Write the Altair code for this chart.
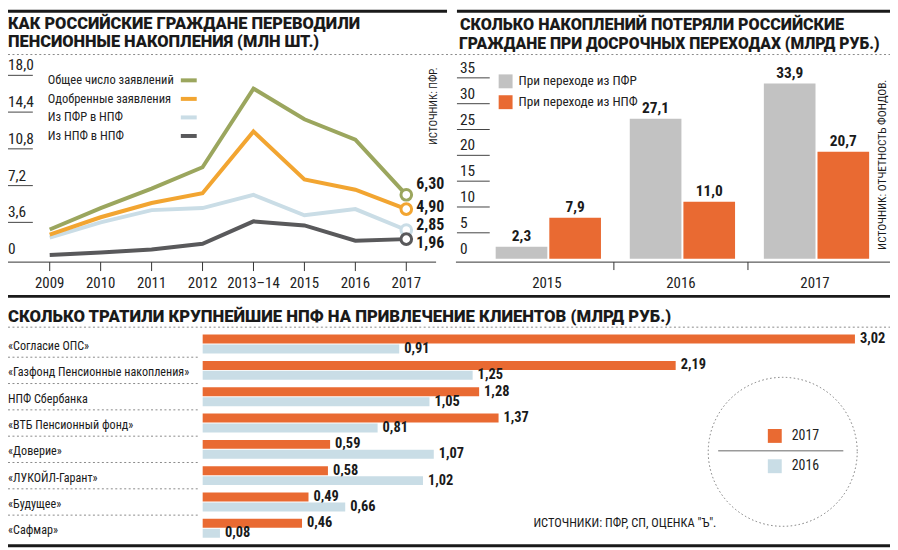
import altair as alt
import pandas as pd

# ---------------- data ----------------
# Panel 1: transfers of pension savings (mln applications)
years = ["2009", "2010", "2011", "2012", "2013–14", "2015", "2016", "2017"]
total_apps = [2.9, 5.0, 6.9, 9.0, 16.7, 13.7, 11.7, 6.30]
approved_apps = [2.4, 4.1, 5.5, 6.45, 12.5, 7.8, 6.8, 4.90]
pfr_to_npf = [2.1, 3.6, 4.8, 5.0, 6.3, 4.3, 4.9, 2.85]
npf_to_npf = [0.4, 0.65, 0.95, 1.5, 3.7, 3.3, 1.8, 1.96]
series_names = ["Общее число заявлений", "Одобренные заявления", "Из ПФР в НПФ", "Из НПФ в НПФ"]
line_colors = ["#9ba65e", "#f2a531", "#cadde6", "#59595b"]
y1_ticks = [0, 3.6, 7.2, 10.8, 14.4, 18.0]

# Panel 2: losses on early transfers (bln rub)
loss_years = ["2015", "2016", "2017"]
loss_from_pfr = [2.3, 27.1, 33.9]
loss_from_npf = [7.9, 11.0, 20.7]
loss_names = ["При переходе из ПФР", "При переходе из НПФ"]
bar_colors = ["#c2c2c2", "#e96a32"]
y2_ticks = [0, 5, 10, 15, 20, 25, 30, 35]

# Panel 3: spending of largest NPFs on client acquisition (bln rub)
funds = ["«Согласие ОПС»", "«Газфонд Пенсионные накопления»", "НПФ Сбербанка",
         "«ВТБ Пенсионный фонд»", "«Доверие»", "«ЛУКОЙЛ-Гарант»", "«Будущее»", "«Сафмар»"]
spend_2017 = [3.02, 2.19, 1.28, 1.37, 0.59, 0.58, 0.49, 0.46]
spend_2016 = [0.91, 1.25, 1.05, 0.81, 1.07, 1.02, 0.66, 0.08]
spend_years = ["2017", "2016"]
spend_colors = ["#e96a32", "#c9dde6"]

# ---------------- style ----------------
BODY = "Roboto Condensed, Roboto, sans-serif"
HEAD = "Roboto, Inter, sans-serif"
INK = "#1a1a1a"


def X(px):
    return px - 8


def Y(py):
    return py - 8


def fmt(v, d):
    return (f"{v:.{d}f}").replace(".", ",")


def txt(s, x, y, size, weight="normal", font=BODY, align="left",
        baseline="alphabetic", angle=None, color=INK):
    kw = dict(fontSize=size, fontWeight=weight, font=font, align=align,
              baseline=baseline, color=color)
    if angle is not None:
        kw["angle"] = angle
    return alt.Chart(pd.DataFrame({"t": [s]})).mark_text(**kw).encode(
        x=alt.value(x), y=alt.value(y), text="t:N")


def hrule(x1, x2, y, width=1.0, color=INK, dash=None):
    kw = dict(strokeWidth=width, color=color)
    if dash is not None:
        kw["strokeDash"] = dash
    return alt.Chart(pd.DataFrame({"a": [0]})).mark_rule(**kw).encode(
        x=alt.value(x1), x2=alt.value(x2), y=alt.value(y))


layers = []

# ---------- frame lines ----------
layers.append(hrule(0, 442, 1.5, 3))
layers.append(hrule(452, 888, 1.5, 3))
layers.append(hrule(0, 888, 45, 1, "#8a8a8a", [2, 2.5]))
layers.append(hrule(0, 888, 288.5, 3))
layers.append(hrule(0, 888, 539.5, 3))

# ---------- Panel 1 ----------
layers.append(txt("КАК РОССИЙСКИЕ ГРАЖДАНЕ ПЕРЕВОДИЛИ", 0, Y(27), 16.5, 900, HEAD))
layers.append(txt("ПЕНСИОННЫЕ НАКОПЛЕНИЯ (МЛН ШТ.)", 0, Y(45.5), 16.5, 900, HEAD))
layers.append(txt("ИСТОЧНИК: ПФР.", X(437), Y(105), 11, angle=270,
                  align="center", baseline="middle"))

x1_scale = alt.Scale(type="point", domain=years, range=[X(50), X(409)], padding=0)
y1_scale = alt.Scale(domain=[0, 18], range=[Y(259), Y(259 - 18 * 10.28)], nice=False, zero=False)

tick1 = pd.DataFrame({"v": y1_ticks, "lab": ["0" if v == 0 else fmt(v, 1) for v in y1_ticks]})
layers.append(alt.Chart(tick1[tick1.v > 0]).mark_rule(color="#444", strokeWidth=1).encode(
    x=alt.value(0), x2=alt.value(X(33)), y=alt.Y("v:Q", scale=y1_scale, axis=None)))
layers.append(alt.Chart(tick1).mark_text(font=BODY, fontSize=15.5, align="left",
                                         baseline="alphabetic", dy=-5, color="#222").encode(
    x=alt.value(0), y=alt.Y("v:Q", scale=y1_scale, axis=None), text="lab:N"))

yr = pd.DataFrame({"year": years})
layers.append(hrule(0, X(439), Y(262), 1, "#333"))
layers.append(alt.Chart(yr).mark_rule(color="#333", strokeWidth=1).encode(
    x=alt.X("year:N", scale=x1_scale, axis=None), y=alt.value(Y(262)), y2=alt.value(Y(271))))
layers.append(alt.Chart(yr).mark_text(font=BODY, fontSize=15, baseline="middle", color="#222").encode(
    x=alt.X("year:N", scale=x1_scale, axis=None), y=alt.value(Y(283)), text="year:N"))

series_vals = [total_apps, approved_apps, pfr_to_npf, npf_to_npf]
end_dy = [-11, -2, -5, 4]
for i in [2, 3, 1, 0]:
    df = pd.DataFrame({"year": years, "v": series_vals[i]})
    layers.append(alt.Chart(df).mark_line(color=line_colors[i], strokeWidth=4,
                                          strokeJoin="miter").encode(
        x=alt.X("year:N", scale=x1_scale, axis=None, sort=years),
        y=alt.Y("v:Q", scale=y1_scale, axis=None)))
for i in [2, 3, 1, 0]:
    last = pd.DataFrame({"year": [years[-1]], "v": [series_vals[i][-1]],
                         "lab": [fmt(series_vals[i][-1], 2)]})
    layers.append(alt.Chart(last).mark_point(shape="circle", size=115, filled=True, fill="white",
                                             stroke=line_colors[i], strokeWidth=3, opacity=1).encode(
        x=alt.X("year:N", scale=x1_scale, axis=None),
        y=alt.Y("v:Q", scale=y1_scale, axis=None)))
    layers.append(alt.Chart(last).mark_text(font=BODY, fontSize=16, fontWeight="bold", align="left",
                                            baseline="middle", dx=10, dy=end_dy[i], color=INK).encode(
        x=alt.X("year:N", scale=x1_scale, axis=None),
        y=alt.Y("v:Q", scale=y1_scale, axis=None), text="lab:N"))

leg1 = pd.DataFrame({"name": series_names})
leg1_y = alt.Scale(type="point", domain=series_names, range=[Y(79), Y(135)], padding=0)
leg1_c = alt.Scale(domain=series_names, range=line_colors)
layers.append(alt.Chart(leg1).mark_text(font=BODY, fontSize=12.6, align="left",
                                        baseline="middle", color="#222").encode(
    x=alt.value(X(48)), y=alt.Y("name:N", scale=leg1_y, axis=None), text="name:N"))
layers.append(alt.Chart(leg1).mark_rule(strokeWidth=4).encode(
    x=alt.value(X(182)), x2=alt.value(X(198)), y=alt.Y("name:N", scale=leg1_y, axis=None),
    color=alt.Color("name:N", scale=leg1_c, legend=None)))

# ---------- Panel 2 ----------
layers.append(txt("СКОЛЬКО НАКОПЛЕНИЙ ПОТЕРЯЛИ РОССИЙСКИЕ", X(463), Y(28), 16.2, 900, HEAD))
layers.append(txt("ГРАЖДАНЕ ПРИ ДОСРОЧНЫХ ПЕРЕХОДАХ (МЛРД РУБ.)", X(462), Y(47), 15.8, 900, HEAD))
layers.append(txt("ИСТОЧНИК: ОТЧЕТНОСТЬ ФОНДОВ.", X(889), Y(164), 11.5, angle=270,
                  align="center", baseline="middle"))

y2_scale = alt.Scale(domain=[0, 35], range=[Y(258.5), Y(258.5 - 35 * 5.2)], nice=False, zero=False)
tick2 = pd.DataFrame({"v": y2_ticks, "lab": [str(v) for v in y2_ticks]})
layers.append(alt.Chart(tick2[tick2.v > 0]).mark_rule(color="#444", strokeWidth=1).encode(
    x=alt.value(X(460)), x2=alt.value(X(493)), y=alt.Y("v:Q", scale=y2_scale, axis=None)))
layers.append(alt.Chart(tick2).mark_text(font=BODY, fontSize=15.5, align="left",
                                         baseline="alphabetic", dy=-5, color="#222").encode(
    x=alt.value(X(463)), y=alt.Y("v:Q", scale=y2_scale, axis=None), text="lab:N"))

x2_band = alt.Scale(type="band", domain=loss_years, range=[X(483), X(888)],
                    paddingInner=0, paddingOuter=0)
ly = pd.DataFrame({"year": loss_years})
layers.append(hrule(X(459), 888, Y(262), 1, "#333"))
layers.append(alt.Chart(ly.iloc[1:]).mark_rule(color="#333", strokeWidth=1).encode(
    x=alt.X("year:N", scale=x2_band, axis=None, bandPosition=0),
    y=alt.value(Y(262)), y2=alt.value(Y(270))))
layers.append(alt.Chart(ly).mark_text(font=BODY, fontSize=15, baseline="middle", color="#222").encode(
    x=alt.X("year:N", scale=x2_band, axis=None), y=alt.value(Y(283)), text="year:N"))

bw, step2 = 52, 135
for k, (vals, starts) in enumerate([(loss_from_pfr, 499), (loss_from_npf, 553)]):
    sc = alt.Scale(type="band", domain=loss_years, range=[X(starts), X(starts + 2 * step2 + bw)],
                   paddingInner=1 - bw / step2, paddingOuter=0)
    df = pd.DataFrame({"year": loss_years, "v": vals, "lab": [fmt(v, 1) for v in vals]})
    layers.append(alt.Chart(df).mark_bar(color=bar_colors[k]).encode(
        x=alt.X("year:N", scale=sc, axis=None),
        y=alt.Y("v:Q", scale=y2_scale, axis=None)))
    layers.append(alt.Chart(df).mark_text(font=BODY, fontSize=15.5, fontWeight="bold",
                                          baseline="alphabetic", dy=-6, color=INK).encode(
        x=alt.X("year:N", scale=sc, axis=None),
        y=alt.Y("v:Q", scale=y2_scale, axis=None), text="lab:N"))

leg2 = pd.DataFrame({"name": loss_names})
leg2_y = alt.Scale(type="point", domain=loss_names, range=[Y(80), Y(101)], padding=0)
leg2_c = alt.Scale(domain=loss_names, range=bar_colors)
layers.append(alt.Chart(leg2).mark_square(size=196, opacity=1).encode(
    x=alt.value(X(509)), y=alt.Y("name:N", scale=leg2_y, axis=None),
    color=alt.Color("name:N", scale=leg2_c, legend=None)))
layers.append(alt.Chart(leg2).mark_text(font=BODY, fontSize=13.3, align="left",
                                        baseline="middle", color="#222").encode(
    x=alt.value(X(522)), y=alt.Y("name:N", scale=leg2_y, axis=None), text="name:N"))

# ---------- Panel 3 ----------
layers.append(txt("СКОЛЬКО ТРАТИЛИ КРУПНЕЙШИЕ НПФ НА ПРИВЛЕЧЕНИЕ КЛИЕНТОВ (МЛРД РУБ.)",
                  0, Y(322), 16.8, 900, HEAD))
layers.append(hrule(0, 888, Y(327.5), 1, "#8a8a8a", [2, 2.5]))

row = 26.5
lab_y = alt.Scale(type="point", domain=funds, range=[Y(346.5), Y(346.5 + 7 * row)], padding=0)
fd = pd.DataFrame({"fund": funds})
layers.append(alt.Chart(fd).mark_text(font=BODY, fontSize=12.2, align="left",
                                      baseline="middle", color=INK).encode(
    x=alt.value(0), y=alt.Y("fund:N", scale=lab_y, axis=None), text="fund:N"))
sep_y = alt.Scale(type="point", domain=funds[:-1], range=[Y(357.75), Y(357.75 + 6 * row)], padding=0)
layers.append(alt.Chart(fd.iloc[:-1]).mark_rule(color="#8a8a8a", strokeWidth=1, strokeDash=[2, 2.5]).encode(
    x=alt.value(0), x2=alt.value(X(201)), y=alt.Y("fund:N", scale=sep_y, axis=None)))

x3_scale = alt.Scale(domain=[0, 3], range=[X(204), X(204 + 3 * 217.45)], nice=False, zero=False)
bh = 9
for k, (vals, top) in enumerate([(spend_2017, 335), (spend_2016, 345)]):
    sc = alt.Scale(type="band", domain=funds, range=[Y(top), Y(top + 7 * row + bh)],
                   paddingInner=1 - bh / row, paddingOuter=0)
    df = pd.DataFrame({"fund": funds, "v": vals, "lab": [fmt(v, 2) for v in vals]})
    layers.append(alt.Chart(df).mark_bar(color=spend_colors[k]).encode(
        y=alt.Y("fund:N", scale=sc, axis=None, sort=funds),
        x=alt.X("v:Q", scale=x3_scale, axis=None)))
    layers.append(alt.Chart(df).mark_text(font=BODY, fontSize=14.5, fontWeight="bold", align="left",
                                          baseline="middle", dx=5, color=INK).encode(
        y=alt.Y("fund:N", scale=sc, axis=None, sort=funds),
        x=alt.X("v:Q", scale=x3_scale, axis=None), text="lab:N"))

# legend circle
layers.append(alt.Chart(pd.DataFrame({"a": [0]})).mark_point(
    shape="circle", size=150 * 150, filled=False, stroke="#777", strokeWidth=1,
    strokeDash=[1.5, 2.5], opacity=1).encode(x=alt.value(X(788)), y=alt.value(Y(453))))
layers.append(hrule(X(723), X(849), Y(452), 1.5, "#9a9a9a"))
leg3 = pd.DataFrame({"name": spend_years})
leg3_y = alt.Scale(type="point", domain=spend_years, range=[Y(437), Y(467.5)], padding=0)
leg3_c = alt.Scale(domain=spend_years, range=spend_colors)
layers.append(alt.Chart(leg3).mark_square(size=196, opacity=1).encode(
    x=alt.value(X(780)), y=alt.Y("name:N", scale=leg3_y, axis=None),
    color=alt.Color("name:N", scale=leg3_c, legend=None)))
layers.append(alt.Chart(leg3).mark_text(font=BODY, fontSize=14, align="left",
                                        baseline="middle", color="#222").encode(
    x=alt.value(X(797)), y=alt.Y("name:N", scale=leg3_y, axis=None), text="name:N"))

layers.append(txt('ИСТОЧНИКИ: ПФР, СП, ОЦЕНКА "Ъ".', X(537), Y(525), 12.5, baseline="middle"))

chart = alt.layer(*layers).resolve_scale(
    x="independent", y="independent", color="independent"
).properties(
    width=888, height=541, padding=0, autosize="none", background="white"
).configure_view(stroke=None)

chart.save("out.html", embed_options={"renderer": "svg", "actions": False})
